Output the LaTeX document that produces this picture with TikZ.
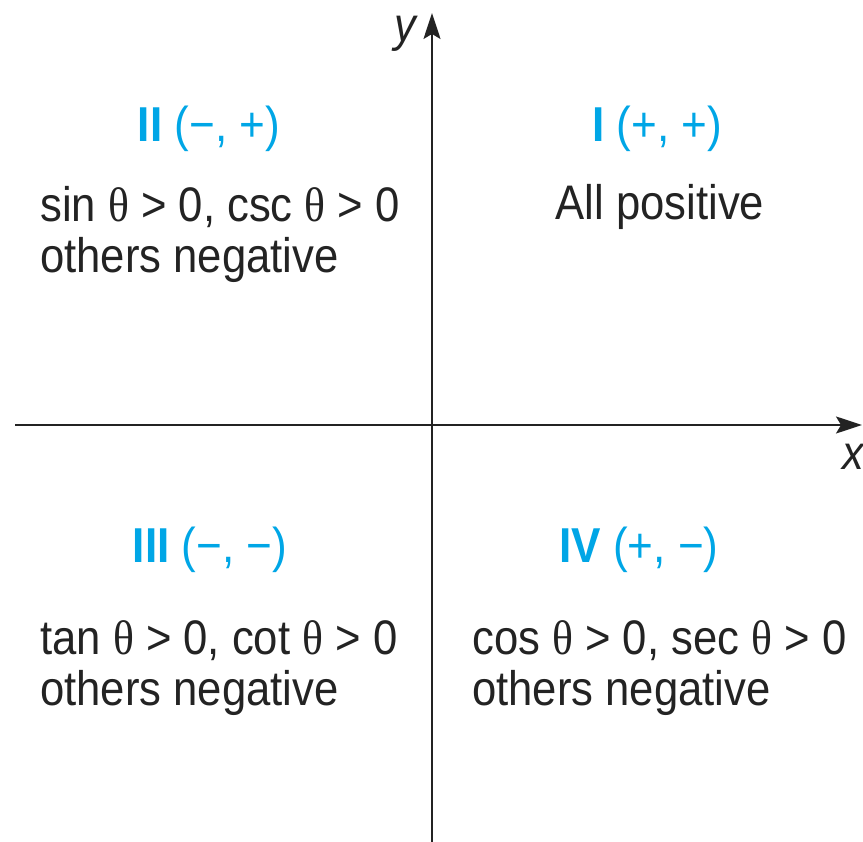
\documentclass[tikz,border=0pt]{standalone}
\usepackage{fontspec}
\setmainfont{Liberation Sans}[FakeStretch=0.9]
\newfontfamily\thfont{Liberation Serif}[FakeStretch=0.9]
\usetikzlibrary{arrows.meta}
\definecolor{qblue}{RGB}{0,166,230}
\newcommand{\thsym}{{\thfont θ}}
\tikzset{
  axis/.style={line width=1.8pt, draw={rgb,255:red,35;green,35;blue,35}, -{Stealth[length=26pt,width=17pt,inset=5pt]}},
  body/.style={font=\fontsize{48.5}{51}\selectfont, text={rgb,255:red,35;green,35;blue,35}, inner sep=0pt},
  title/.style={font=\fontsize{49}{52}\selectfont, text=qblue, inner sep=0pt, anchor=base},
  axlabel/.style={font=\fontsize{48}{52}\selectfont\itshape, text={rgb,255:red,35;green,35;blue,35}, inner sep=0pt}
}
\begin{document}
\begin{tikzpicture}[x=1pt,y=-1pt]
\useasboundingbox (0,0) rectangle (863,842);
\coordinate (xs) at (15,425);
\coordinate (xe) at (862,425);
\coordinate (ys) at (432,842);
\coordinate (ye) at (432,13);
\draw[axis] (xs) -- (xe);
\draw[axis] (ys) -- (ye);
\node[axlabel, anchor=base] (ylab) at (405,42) {y};
\node[axlabel, anchor=base] (xlab) at (853,470) {x};
% titles
\node[title] (t2) at (209,142) {\textbf{II} (−, +)};
\node[title] (t1) at (657,142) {\textbf{I} (+, +)};
\node[title] (t3) at (210,562) {\textbf{III} (−, −)};
\node[title] (t4) at (639,562) {\textbf{IV} (+, −)};
% bodies
\node[body, anchor=base] (b1) at (660,220) {All positive};
\node[body, anchor=base west] (b2a) at (40,222) {sin \thsym{} > 0, csc \thsym{} > 0};
\node[body, anchor=base west] (b2b) at (40,273) {others negative};
\node[body, anchor=base west] (b3a) at (40,654) {tan \thsym{} > 0, cot \thsym{} > 0};
\node[body, anchor=base west] (b3b) at (40,705) {others negative};
\node[body, anchor=base west] (b4a) at (472,654) {cos \thsym{} > 0, sec \thsym{} > 0};
\node[body, anchor=base west] (b4b) at (472,705) {others negative};
\end{tikzpicture}
\end{document}
